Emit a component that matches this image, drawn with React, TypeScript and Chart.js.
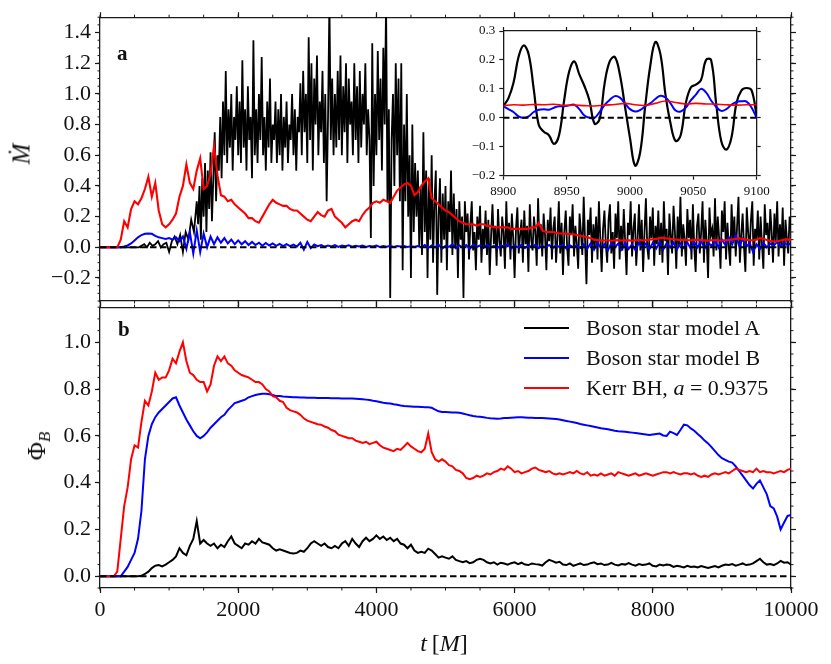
import React, { useEffect, useRef } from 'react';
import { Chart, registerables } from 'chart.js';

Chart.register(...registerables);

const FONT = '"Liberation Serif", "DejaVu Serif", serif';
const INK = '#1a1a1a';

// time grids (M)
const STEP_EARLY = 40;
const STEP_FINE = 20;
const T_FINE0 = 1400;
const STEP = 50;
const INSET_STEP = 4;
const INSET_STEP_RED = 8;
const INSET_T0 = 8900;

// tick values
const tTicks = [0, 2000, 4000, 6000, 8000, 10000];
const mdotTicks = [-0.2, 0, 0.2, 0.4, 0.6, 0.8, 1.0, 1.2, 1.4];
const phiTicks = [0, 0.2, 0.4, 0.6, 0.8, 1.0];
const insetTTicks = [8900, 8950, 9000, 9050, 9100];
const insetYTicks = [-0.2, -0.1, 0, 0.1, 0.2, 0.3];

// panel a: accretion rate, model A, t = 0..1360 (step 40)
const mdotAEarly = [
  0, 0, 0, 0, 0, 0, 0, 0, 0, 0, 0, 0, 0, 0,
  0.0, 0.01, 0.02, 0.0, 0.03, 0.01, 0.02, 0.04, 0.0, 0.02, 0.03, -0.03, 0.04, 0.07,
  0.02, 0.08, -0.03, 0.1, 0.05, 0.18, 0.1,
];
// model A, t = 1400..10000 (step 20)
const mdotALate = [
  0.3, 0.15, 0.4, 0.05, 0.45, 0.2, 0.55, 0.1, 0.5, 0.25, 0.62, 0.17, 0.45, 0.75, 0.3, 0.6,
  0.5, 0.85, 0.45, 0.95, 0.6, 1.15, 0.55, 0.9, 0.65, 1.0, 0.5, 0.85, 0.7, 1.05, 0.6,
  0.95, 0.55, 1.22, 0.65, 0.9, 0.5, 1.05, 0.7, 0.85, 0.45, 1.35, 0.6, 0.9, 0.55, 1.0, 0.7, 1.24, 0.6, 0.85, 0.5, 0.95, 0.65, 1.1, 0.55, 0.8,
  0.7, 0.95, 0.55, 0.9, 0.6, 1.0, 0.5, 0.85, 0.65, 0.95, 0.55, 0.8, 0.7, 1.0, 0.6, 0.9, 0.5, 0.85, 0.75, 1.07,
  0.6, 1.15, 0.75, 1.0, 0.55, 1.37, 0.7, 1.2, 0.5, 1.1, 0.8, 1.25, 0.6, 0.95, 0.75, 1.15, 0.55, 1.0, 0.3, 0.85, 1.6, 0.7, 1.1, 0.6, 1.0,
  0.65, 1.15, 0.7, 1.25, 0.6, 1.05, 0.75, 1.2, 0.55, 1.1, 0.8, 0.95, 0.6, 1.2, 0.7, 1.05, 0.55, 1.15, 0.65, 1.0, 0.8, 1.2, 0.6, 0.9, 0.7,
  0.06, 1.33, 0.4, 1.0, 0.6, 1.28, 0.7, 1.1, 0.5, 1.3, 0.8, 1.6, 0.3, 0.9, -0.33, 0.7, 1.0, 0.4, 1.2, 0.6, 1.1, 0.3, 1.2, -0.15, 0.8,
  0.3, 1.0, 0.2, 0.6, -0.2, 0.8, 0.1, 0.55, 0.2, 0.5, 0.0,
  0.4, -0.05, 0.75, 0.1, 0.5, -0.2, 0.45, 0.05, 0.6, -0.1, 0.3, 0.5, -0.31, 0.2, 0.45, -0.1, 0.35,
  0.05, 0.4, -0.15, 0.3, 0.1, 0.5, -0.05, 0.35, 0.0, 0.25, -0.2, 0.3, 0.05, 0.2, -0.33, 0.3, 0.1,
  0.22, -0.08, 0.15, 0.3, -0.02, 0.1, -0.15, 0.2, 0.05, 0.27, -0.1, 0.12, 0.0, 0.24, -0.05, 0.18, -0.18, 0.08, 0.28, 0.02,
  0.14, -0.12, 0.25, 0.04, -0.06, 0.2, 0.1, -0.14, 0.3, 0.0, 0.16, -0.08, 0.22, 0.06, -0.2, 0.12, 0.26, -0.04, 0.08, 0.18,
  -0.1, 0.24, 0.02, 0.14, -0.16, 0.28, 0.05, -0.02, 0.2, 0.1, -0.12, 0.32, 0.0, 0.15, -0.06, 0.22, 0.08, -0.15, 0.18, 0.04,
  0.26, -0.08, 0.12, 0.2, -0.1, 0.06, 0.3, -0.04, 0.16, -0.18, 0.1, 0.24, 0.0, -0.12, 0.2, 0.08, 0.28, -0.06, 0.14, 0.02,
  -0.14, 0.22, 0.1, -0.05, 0.33, 0.04, -0.24, 0.18, 0.08, 0.26, -0.1, 0.15, 0.0, 0.2, -0.08, 0.3, 0.06, -0.16, 0.12, 0.24,
  0.02, -0.1, 0.18, 0.28, -0.04, 0.1, -0.14, 0.22, 0.06, 0.3, -0.08, 0.14, -0.02, 0.25, 0.04, -0.18, 0.16, 0.08, 0.3, -0.06,
  0.12, 0.22, -0.12, 0.05, 0.28, -0.02, 0.18, -0.16, 0.1, 0.32, 0.0, -0.08, 0.2, 0.06, 0.26, -0.12, 0.14, 0.02, 0.24, -0.05,
  0.16, -0.1, 0.3, 0.04, 0.12, -0.18, 0.22, 0.08, -0.04, 0.27, 0.1, -0.14, 0.2, 0.0, 0.33, -0.06, 0.15, 0.05, -0.12, 0.25,
  0.06, 0.18, -0.08, 0.28, 0.0, -0.16, 0.14, 0.22, -0.04, 0.1, 0.3, -0.1, 0.18, 0.04, -0.2, 0.26, 0.08, 0.12, -0.06, 0.32,
  -0.02, 0.2, 0.06, -0.14, 0.24, 0.1, 0.3, -0.08, 0.16, 0.0, -0.12, 0.28, 0.04, 0.2, -0.06, 0.14, 0.33, -0.1, 0.08, 0.22,
  0.0, -0.16, 0.26, 0.1, -0.04, 0.18, 0.3, -0.12, 0.12, 0.05, 0.24, -0.08, 0.2, 0.02, -0.14, 0.28, 0.08, 0.16, -0.05, 0.25,
  0.1, -0.1, 0.22, 0.04, 0.3, -0.06, 0.15, 0.0, 0.26, -0.12, 0.18, 0.06, -0.04, 0.2, 0.12,
];

// panel a: model B (step 50)
const mdotB = [
  0, 0, 0, 0, 0, 0,
  0.0, 0.005, 0.012, 0.025, 0.045, 0.065, 0.08, 0.088, 0.09, 0.088, 0.075, 0.065, 0.06, 0.055,
  0.06, 0.05, 0.065, 0.04, 0.07, -0.01, 0.1, -0.04, 0.11, -0.03, 0.09, 0.0, 0.07, 0.02, 0.065, 0.03,
  0.06, 0.025, 0.05, 0.02, 0.045, 0.02, 0.04, 0.015, 0.035, 0.015, 0.03, 0.01, 0.028, 0.012, 0.025,
  0.01, 0.022, 0.008, 0.02, 0.008, 0.018, 0.005, 0.03, -0.015, 0.035, -0.005, 0.018,
  0.008, 0.015, 0.004, 0.012, 0.006, 0.014, 0.003, 0.011, 0.007, 0.013,
  0.004, 0.01, 0.006, 0.012, 0.003, 0.009, 0.005, 0.011, 0.002, 0.008,
  0.004, 0.01, 0.003, 0.009, 0.005, 0.008, 0.002, 0.007, 0.004, 0.009,
  0.0, 0.015, -0.005, 0.012, 0.0, 0.018, -0.008, 0.01, 0.003, 0.02,
  -0.005, 0.012, 0.0, 0.015, -0.01, 0.018, 0.002, 0.012, -0.004, 0.016,
  0.0, 0.01, -0.006, 0.014, 0.002, 0.02, -0.008, 0.012, 0.0, 0.016,
  -0.004, 0.012, 0.002, 0.018, -0.006, 0.01, 0.0, 0.015, -0.005, 0.012,
  0.002, 0.018, -0.008, 0.014, 0.0, 0.012, -0.004,
  0.02, -0.01, 0.025, -0.015, 0.03, -0.005, 0.022, -0.02, 0.028, 0.0,
  0.025, -0.015, 0.03, -0.01, 0.02, -0.02, 0.032, -0.005, 0.025, -0.012,
  0.03, -0.008, 0.035, -0.015, 0.028, 0.0, 0.03, -0.012, 0.025, -0.005,
  0.032, -0.01, 0.035, 0.0, 0.04, -0.005, 0.03, 0.01, 0.045, 0.0,
  0.05, 0.015, 0.065, 0.02, 0.08, 0.01, 0.055, 0.0, 0.03, -0.03,
  0.02, -0.01, 0.03, 0.0, 0.025, 0.01, 0.035, 0.005, 0.03, 0.015, 0.025,
];

// panel a: Kerr BH (step 50)
const mdotKerr = [
  0, 0, 0, 0, 0, 0,
  0.05, 0.17, 0.13, 0.25, 0.3, 0.28, 0.32, 0.38, 0.46, 0.33, 0.42, 0.24, 0.15, 0.13,
  0.15, 0.18, 0.22, 0.33, 0.4, 0.54, 0.42, 0.38, 0.5, 0.58, 0.38, 0.4, 0.48, 0.66, 0.47,
  0.34, 0.33, 0.3, 0.31, 0.28, 0.26, 0.24, 0.22, 0.19, 0.19, 0.17, 0.16, 0.2, 0.24, 0.28,
  0.31, 0.29, 0.28, 0.27, 0.27, 0.25, 0.24, 0.24, 0.22, 0.2, 0.18, 0.17, 0.2, 0.23, 0.21,
  0.2, 0.24, 0.25, 0.2, 0.18, 0.16, 0.13, 0.15, 0.17, 0.18, 0.17, 0.21, 0.24, 0.26, 0.29,
  0.3, 0.29, 0.31, 0.3, 0.29, 0.33, 0.37, 0.39, 0.41, 0.42, 0.4, 0.34, 0.36, 0.4, 0.43,
  0.45, 0.32, 0.3, 0.28, 0.26, 0.24, 0.23, 0.21, 0.19, 0.17, 0.16, 0.15, 0.15, 0.15, 0.14,
  0.15, 0.15, 0.14, 0.14, 0.13, 0.13, 0.13, 0.13, 0.13, 0.12, 0.12, 0.12, 0.12, 0.12, 0.12,
  0.13, 0.13, 0.16, 0.11, 0.1, 0.1, 0.1, 0.095, 0.09, 0.09, 0.088, 0.086, 0.085, 0.08, 0.075,
  0.07, 0.065, 0.06, 0.05, 0.047,
  0.045, 0.044, 0.046, 0.043, 0.045, 0.047, 0.044, 0.046, 0.045, 0.043,
  0.046, 0.048, 0.045, 0.047, 0.05, 0.052, 0.055, 0.06, 0.063, 0.058,
  0.055, 0.052, 0.05, 0.048, 0.05, 0.047, 0.045, 0.048, 0.05, 0.047,
  0.045, 0.043, 0.046, 0.048, 0.045, 0.044, 0.046, 0.048, 0.05, 0.055,
  0.058, 0.055, 0.05, 0.047, 0.045, 0.05, 0.06, 0.055, 0.048, 0.042,
  0.038, 0.04, 0.045, 0.05, 0.052, 0.05,
];

// panel b: magnetic flux (step 50)
const phiA = [
  0, 0, 0, 0, 0, 0, 0, 0, 0, 0, 0, 0,
  0.002, 0.01, 0.02, 0.035, 0.045, 0.048, 0.042, 0.05, 0.06, 0.07, 0.085, 0.12, 0.1, 0.09,
  0.13, 0.16, 0.236, 0.14, 0.155, 0.14, 0.13, 0.14, 0.12, 0.135, 0.125, 0.15, 0.17, 0.14,
  0.13, 0.12, 0.14, 0.135, 0.15, 0.14, 0.16, 0.145, 0.14, 0.135, 0.12, 0.11, 0.115, 0.11,
  0.105, 0.1, 0.098, 0.1, 0.11, 0.105, 0.12, 0.14, 0.15, 0.14, 0.13, 0.14, 0.125, 0.12,
  0.13, 0.12, 0.14, 0.15, 0.13, 0.16, 0.14, 0.125, 0.15, 0.165, 0.15, 0.16, 0.175, 0.16,
  0.17, 0.155, 0.165, 0.15, 0.16, 0.14, 0.135, 0.12, 0.135, 0.11, 0.1, 0.105, 0.1, 0.118,
  0.11, 0.095, 0.08, 0.085, 0.08, 0.075, 0.085, 0.07, 0.065, 0.06, 0.065, 0.056, 0.06, 0.07,
  0.075, 0.07, 0.06, 0.055, 0.06, 0.05, 0.058,
  0.055, 0.05, 0.056, 0.06, 0.052, 0.058, 0.05, 0.048, 0.055, 0.052, 0.05, 0.046, 0.06, 0.07,
  0.065, 0.058, 0.062, 0.05, 0.048, 0.055, 0.045, 0.05, 0.055, 0.048, 0.05, 0.056, 0.06, 0.052,
  0.055, 0.048, 0.05, 0.057, 0.05, 0.046, 0.052, 0.05, 0.056, 0.05, 0.045, 0.052, 0.048, 0.05,
  0.055, 0.045, 0.042, 0.05, 0.046, 0.05, 0.048, 0.04, 0.045, 0.042, 0.038, 0.045, 0.04, 0.042,
  0.038, 0.044, 0.04, 0.036, 0.04, 0.044, 0.038, 0.045, 0.05, 0.048, 0.052, 0.045, 0.05, 0.055,
  0.048, 0.05, 0.055, 0.065, 0.075, 0.06, 0.05, 0.052, 0.048, 0.055, 0.066, 0.058, 0.06, 0.05,
];

const phiB = [
  0, 0, 0, 0, 0, 0,
  0.0, 0.02, 0.04, 0.07, 0.1, 0.16, 0.28, 0.5, 0.6, 0.65, 0.68, 0.7, 0.715, 0.73,
  0.745, 0.76, 0.765, 0.73, 0.7, 0.67, 0.645, 0.62, 0.6, 0.59, 0.6, 0.615, 0.635, 0.65, 0.665,
  0.68, 0.69, 0.71, 0.725, 0.74, 0.745, 0.75, 0.755, 0.765, 0.77, 0.775, 0.778, 0.78, 0.78, 0.778,
  0.775,
  0.77, 0.77, 0.768, 0.767, 0.766, 0.765, 0.765, 0.764, 0.764, 0.763,
  0.763, 0.763, 0.762, 0.762, 0.762, 0.762, 0.761, 0.761, 0.761, 0.76,
  0.76, 0.76, 0.76, 0.759, 0.758, 0.757, 0.755, 0.753, 0.75, 0.748,
  0.745, 0.742, 0.74, 0.738, 0.735, 0.733, 0.73, 0.728, 0.727, 0.726, 0.725, 0.725,
  0.724, 0.722, 0.722, 0.72, 0.712, 0.705, 0.702, 0.702, 0.701, 0.7, 0.7, 0.699, 0.696, 0.692,
  0.688, 0.685, 0.683, 0.682, 0.68, 0.677, 0.675, 0.674, 0.673, 0.674, 0.676, 0.677, 0.678, 0.679,
  0.68, 0.68, 0.679, 0.678, 0.678, 0.677, 0.676, 0.676, 0.675, 0.674, 0.673, 0.672, 0.67, 0.667,
  0.664, 0.661, 0.658, 0.655, 0.651, 0.648, 0.645, 0.642, 0.639, 0.636, 0.633, 0.631, 0.628, 0.625,
  0.622, 0.62, 0.619, 0.618, 0.616, 0.614, 0.612, 0.61, 0.608, 0.606, 0.604, 0.606, 0.608, 0.61,
  0.602, 0.6, 0.618, 0.612, 0.604, 0.625, 0.648, 0.645, 0.632, 0.622, 0.608, 0.595, 0.58, 0.568,
  0.552, 0.535, 0.518, 0.505, 0.498, 0.49, 0.486, 0.47, 0.45, 0.43, 0.41, 0.39, 0.375, 0.395,
  0.41, 0.38, 0.35, 0.3, 0.29, 0.255, 0.2, 0.23, 0.258, 0.262,
];

const phiKerr = [
  0, 0, 0, 0, 0, 0.02,
  0.16, 0.3, 0.38, 0.5, 0.56, 0.55, 0.66, 0.75, 0.73, 0.79, 0.87, 0.84, 0.85, 0.85,
  0.88, 0.93, 0.91, 0.96, 1.0, 0.92, 0.87, 0.86, 0.84, 0.83, 0.83, 0.79, 0.82, 0.9, 0.94,
  0.92, 0.94, 0.91, 0.9, 0.88, 0.87, 0.86, 0.855, 0.85, 0.84, 0.83, 0.83, 0.82, 0.8, 0.79,
  0.77, 0.765, 0.75, 0.745, 0.72, 0.71, 0.705, 0.7, 0.69, 0.675, 0.665, 0.66, 0.655, 0.65, 0.648,
  0.64, 0.635, 0.625, 0.62, 0.605, 0.6, 0.595, 0.59, 0.59, 0.58, 0.575, 0.57, 0.575, 0.565, 0.57,
  0.575, 0.56, 0.55, 0.545, 0.54, 0.535, 0.545, 0.54, 0.555, 0.57, 0.555, 0.545, 0.535, 0.53, 0.545,
  0.61, 0.53, 0.5, 0.49, 0.5, 0.49, 0.475, 0.47, 0.455, 0.45, 0.44, 0.42, 0.415, 0.42, 0.43,
  0.425, 0.43, 0.44, 0.435, 0.445, 0.45, 0.46, 0.455, 0.47, 0.46, 0.445, 0.45, 0.44, 0.445, 0.45,
  0.46, 0.465, 0.455, 0.45, 0.445, 0.45, 0.44, 0.435, 0.44, 0.435, 0.44, 0.445, 0.44, 0.45, 0.44,
  0.435, 0.445, 0.43, 0.435, 0.43, 0.44, 0.43, 0.435, 0.44, 0.43, 0.445, 0.44, 0.435, 0.43, 0.435,
  0.44, 0.43, 0.435, 0.44, 0.435, 0.43, 0.435, 0.44, 0.445, 0.445, 0.44, 0.445, 0.44, 0.435, 0.44,
  0.44, 0.435, 0.44, 0.43, 0.425, 0.43, 0.425, 0.435, 0.44, 0.435, 0.44, 0.445, 0.44, 0.45, 0.46,
  0.455, 0.45, 0.445, 0.45, 0.445, 0.46, 0.445, 0.45, 0.445, 0.445, 0.44, 0.445, 0.45, 0.445, 0.455,
  0.46,
];

// inset: 8900..9100 M
const insetA = [
  0.04, 0.067, 0.12, 0.21, 0.25, 0.22, 0.1, -0.025, -0.048, -0.06, -0.09, -0.06, 0.06, 0.16, 0.195,
  0.15, 0.11, 0.06, -0.02, -0.005, 0.12, 0.195, 0.21, 0.15, 0.04, -0.07, -0.165, -0.12, 0.04, 0.18,
  0.262, 0.22, 0.08, -0.02, -0.08, -0.06, 0.05, 0.105, 0.115, 0.13, 0.2, 0.2, 0.05, -0.08, -0.11,
  -0.07, 0.05, 0.095, 0.103, 0.095, 0.005,
];
const insetB = [
  0.04, 0.03, 0.02, 0.005, 0.0, 0.005, 0.02, 0.028, 0.03, 0.028, 0.035, 0.04, 0.04, 0.043, 0.045,
  0.03, 0.008, 0.0, 0.0, 0.02, 0.045, 0.062, 0.075, 0.07, 0.05, 0.03, 0.022, 0.027, 0.04, 0.05,
  0.065, 0.076, 0.07, 0.05, 0.025, 0.022, 0.035, 0.06, 0.08, 0.1, 0.088, 0.06, 0.038, 0.024, 0.03,
  0.045, 0.055, 0.057, 0.056, 0.035, 0.0,
];
const insetKerr = [
  0.042, 0.045, 0.044, 0.046, 0.045, 0.047, 0.043, 0.044, 0.042, 0.041, 0.044, 0.046, 0.05,
  0.045, 0.043, 0.05, 0.058, 0.053, 0.048, 0.05, 0.048, 0.047, 0.045, 0.044, 0.045, 0.045,
];

const legendItems = [
  { label: 'Boson star model A', color: '#000000' },
  { label: 'Boson star model B', color: '#0000ff' },
  { label: 'Kerr', color: '#ff0000' },
];

const pts = (vals: number[], step: number, t0 = 0) => vals.map((y, i) => ({ x: t0 + i * step, y }));

const series = (data: any[], color: string, width: number, dash?: number[]) => ({
  data,
  borderColor: color,
  borderWidth: width,
  borderDash: dash,
  pointRadius: 0,
  tension: 0,
  fill: false,
});

const signed = (digits: number) => (v: any) => Number(v).toFixed(digits).replace('-', '\u2212');

// draws the short minor ticks outside every axis
const minorTicks = {
  id: 'minorTicks',
  afterDraw(chart: any, _args: any, opts: any) {
    const { ctx, chartArea } = chart;
    ctx.save();
    ctx.strokeStyle = INK;
    ctx.lineWidth = 1;
    ctx.beginPath();
    for (const id of Object.keys(opts.steps || {})) {
      const s = chart.scales[id];
      const step = opts.steps[id];
      if (!s) continue;
      for (let k = Math.ceil(s.min / step - 1e-9); k * step <= s.max + 1e-9; k++) {
        const p = s.getPixelForValue(k * step);
        if (s.isHorizontal()) {
          const y = s.position === 'top' ? chartArea.top : chartArea.bottom;
          ctx.moveTo(p, y);
          ctx.lineTo(p, y + (s.position === 'top' ? -opts.length : opts.length));
        } else {
          const x = s.position === 'left' ? chartArea.left : chartArea.right;
          ctx.moveTo(x, p);
          ctx.lineTo(x + (s.position === 'left' ? -opts.length : opts.length), p);
        }
      }
    }
    ctx.stroke();
    ctx.restore();
  },
};

function axis(position: string, min: number, max: number, tickVals: number[], size: number, labels: boolean, fontSize = 22, fmt?: any, tick = 5) {
  return {
    type: 'linear',
    position,
    min,
    max,
    afterBuildTicks: (s: any) => {
      s.ticks = tickVals.map((value) => ({ value }));
    },
    afterFit: (s: any) => {
      if (s.isHorizontal()) s.height = size;
      else s.width = size;
    },
    border: { display: true, color: INK, width: 1.3 },
    grid: { drawOnChartArea: false, drawTicks: true, tickLength: tick, color: INK, tickWidth: 1.2 },
    ticks: {
      display: labels,
      autoSkip: false,
      maxRotation: 0,
      padding: 4,
      color: '#111',
      font: { family: FONT, size: fontSize },
      callback: fmt || ((v: any) => String(v)),
    },
  };
}

const baseOptions = {
  responsive: true,
  maintainAspectRatio: false,
  animation: false,
  events: [],
  layout: { padding: 0 },
};

function makeTop() {
  return {
    type: 'line',
    data: {
      datasets: [
        series([{ x: 0, y: 0 }, { x: 10000, y: 0 }], '#000', 2, [6.5, 3.5]),
        series(pts(mdotKerr, STEP), '#ff0000', 2.1),
        series(pts(mdotB, STEP), '#0000ff', 2),
        series([...pts(mdotAEarly, STEP_EARLY), ...pts(mdotALate, STEP_FINE, T_FINE0)], '#000000', 1.8),
      ],
    },
    options: {
      ...baseOptions,
      scales: {
        x: axis('bottom', 0, 10000, tTicks, 19, false),
        xTop: axis('top', 0, 10000, tTicks, 14, false),
        y: axis('left', -0.35, 1.5, mdotTicks, 100, true, 22, signed(1)),
        yRight: axis('right', -0.35, 1.5, mdotTicks, 40, false),
      },
      plugins: {
        legend: { display: false },
        tooltip: { enabled: false },
        minorTicks: { steps: { x: 500, xTop: 500, y: 0.05, yRight: 0.05 }, length: 2.5 },
      },
    },
    plugins: [minorTicks],
  };
}

function makeBottom() {
  return {
    type: 'line',
    data: {
      datasets: [
        series([{ x: 0, y: 0 }, { x: 10000, y: 0 }], '#000', 2, [6.5, 3.5]),
        series(pts(phiKerr, STEP), '#ff0000', 2),
        series(pts(phiB, STEP), '#0000ff', 2),
        series(pts(phiA, STEP), '#000000', 2),
      ],
    },
    options: {
      ...baseOptions,
      scales: {
        x: axis('bottom', 0, 10000, tTicks, 76, true),
        xTop: axis('top', 0, 10000, tTicks, 11, false),
        y: axis('left', -0.05, 1.15, phiTicks, 100, true, 22, signed(1)),
        yRight: axis('right', -0.05, 1.15, phiTicks, 40, false),
      },
      plugins: {
        legend: { display: false },
        tooltip: { enabled: false },
        minorTicks: { steps: { x: 500, xTop: 500, y: 0.05, yRight: 0.05 }, length: 2.5 },
      },
    },
    plugins: [minorTicks],
  };
}

function makeInset() {
  return {
    type: 'line',
    data: {
      datasets: [
        series([{ x: 8900, y: 0 }, { x: 9100, y: 0 }], '#000', 2, [6, 3.5]),
        series(pts(insetKerr, INSET_STEP_RED, INSET_T0), '#ff0000', 1.6),
        series(pts(insetB, INSET_STEP, INSET_T0), '#0000ff', 2),
        series(pts(insetA, INSET_STEP, INSET_T0), '#000000', 2.2),
      ].map((d: any) => ({ ...d, tension: 0.4 })),
    },
    options: {
      ...baseOptions,
      scales: {
        x: axis('bottom', 8900, 9100, insetTTicks, 30.3, true, 13, undefined, 4),
        xTop: axis('top', 8900, 9100, insetTTicks, 13, false, 13, undefined, 4),
        y: axis('left', -0.2, 0.3, insetYTicks, 48.3, true, 13, signed(1), 4),
        yRight: axis('right', -0.2, 0.3, insetYTicks, 18.3, false, 13, undefined, 4),
      },
      plugins: { legend: { display: false }, tooltip: { enabled: false } },
    },
  };
}

function ChartBox({ box, make }: { box: React.CSSProperties; make: () => any }) {
  const ref = useRef<HTMLCanvasElement>(null);
  useEffect(() => {
    if (!ref.current) return;
    const chart = new Chart(ref.current, make());
    return () => chart.destroy();
  }, []);
  return (
    <div style={{ position: 'absolute', ...box }}>
      <canvas ref={ref} />
    </div>
  );
}

const txt: React.CSSProperties = { position: 'absolute', fontFamily: FONT, color: '#111', whiteSpace: 'nowrap' };

export default function App() {
  return (
    <div style={{ position: 'absolute', left: 0, top: 0, width: 831, height: 664, background: '#fff', overflow: 'hidden' }}>
      <ChartBox box={{ left: 0, top: 0, width: 831, height: 320 }} make={makeTop} />
      <ChartBox box={{ left: 0, top: 290, width: 831, height: 374 }} make={makeBottom} />
      <ChartBox box={{ left: 455, top: 18, width: 320, height: 188 }} make={makeInset} />

      <div style={{ ...txt, left: 117, top: 43, fontSize: 21, fontWeight: 'bold', lineHeight: '21px' }}>a</div>
      <div style={{ ...txt, left: 118, top: 319, fontSize: 21, fontWeight: 'bold', lineHeight: '21px' }}>b</div>

      <div style={{ ...txt, left: 21, top: 154, fontSize: 25, fontStyle: 'italic', lineHeight: '25px', transform: 'translate(-50%, -50%) rotate(-90deg)' }}>
        Ṁ
      </div>
      <div style={{ ...txt, left: 38, top: 446, fontSize: 25, lineHeight: '25px', transform: 'translate(-50%, -50%) rotate(-90deg)' }}>
        Φ<span style={{ fontStyle: 'italic', fontSize: 17, position: 'relative', top: 5 }}>B</span>
      </div>
      <div style={{ ...txt, left: 444, top: 643, fontSize: 24, lineHeight: '24px', transform: 'translate(-50%, -50%)' }}>
        <i>t</i>&#8201;[<i>M</i>]
      </div>

      <div style={{ position: 'absolute', left: 524, top: 313 }}>
        {legendItems.map((it) => (
          <div key={it.label} style={{ display: 'flex', alignItems: 'center', height: 30 }}>
            <div style={{ width: 45, height: 2, background: it.color }} />
            <div style={{ ...txt, position: 'static', marginLeft: 17, fontSize: 22, lineHeight: '30px' }}>
              {it.label === 'Kerr' ? (
                <span>
                  Kerr BH, <i>a</i> = 0.9375
                </span>
              ) : (
                it.label
              )}
            </div>
          </div>
        ))}
      </div>
    </div>
  );
}
